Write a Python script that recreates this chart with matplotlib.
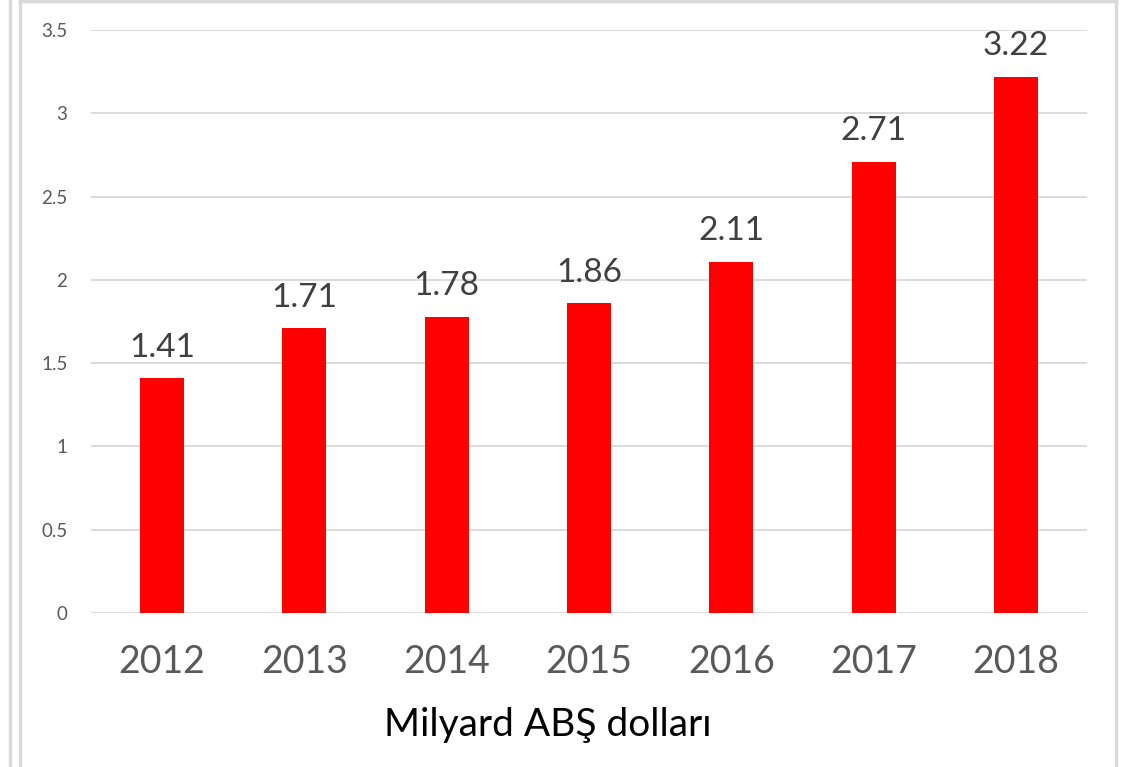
import matplotlib.pyplot as plt
from matplotlib.lines import Line2D

years = ["2012", "2013", "2014", "2015", "2016", "2017", "2018"]
values = [1.41, 1.71, 1.78, 1.86, 2.11, 2.71, 3.22]
y_ticks = [0, 0.5, 1, 1.5, 2, 2.5, 3, 3.5]
y_tick_labels = ["0", "0.5", "1", "1.5", "2", "2.5", "3", "3.5"]
x_title = "Milyard ABŞ dolları"

W, H = 1134, 767
fig = plt.figure(figsize=(W / 100, H / 100), dpi=100)
plt.rcParams['font.family'] = ['Lato', 'DejaVu Sans']

# axes: gridlines from x=91 to 1087, y=0 at 613, 3.5 at 30
ax = fig.add_axes([91 / W, 1 - 613 / H, (1087 - 91) / W, (613 - 30) / H])
x = range(len(years))
ax.bar(x, values, width=0.31, color="#ff0000", zorder=3)
ax.set_xlim(-0.5, len(years) - 0.5)
ax.set_ylim(0, 3.5)
ax.set_yticks(y_ticks)
ax.set_yticklabels(y_tick_labels, fontsize=13.5, color="#595959")
ax.set_xticks(list(x))
ax.set_xticklabels(years, fontsize=27, color="#595959")
ax.tick_params(axis="both", length=0)
ax.tick_params(axis="y", pad=17)
ax.tick_params(axis="x", pad=22)
ax.grid(axis="y", color="#d9d9d9", linewidth=1.3, zorder=0)
for s in ax.spines.values():
    s.set_visible(False)

for xi, v in zip(x, values):
    ax.annotate(f"{v:.2f}", (xi, v), xytext=(0, 11), textcoords="offset points",
                ha="center", va="bottom", fontsize=24, color="#404040")

fig.text(548 / W, 1 - 725 / H, x_title, fontsize=28, color="black",
         ha="center", va="center")

# frame lines
c = "#d9d9d9"
fig.add_artist(Line2D([10 / W, 10 / W], [0, 1], color=c, linewidth=2.5))
fig.add_artist(Line2D([20 / W, 20 / W], [0, 1 - 1 / H], color=c, linewidth=2.5))
fig.add_artist(Line2D([1116 / W, 1116 / W], [0, 1 - 1 / H], color=c, linewidth=2.5))
fig.add_artist(Line2D([20 / W, 1116 / W], [1 - 1 / H, 1 - 1 / H], color=c, linewidth=2.5))

plt.savefig("out.png", dpi=100)
